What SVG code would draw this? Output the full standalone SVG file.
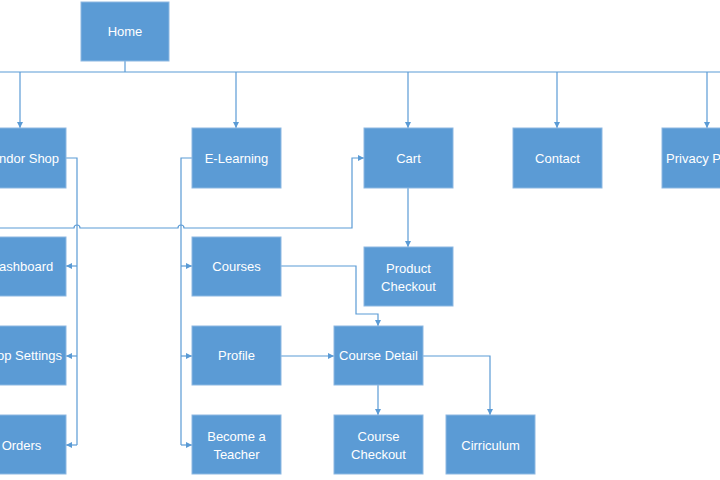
<svg xmlns="http://www.w3.org/2000/svg" width="720" height="480" viewBox="0 0 720 480">
<style>
.box{fill:#5B9BD5;stroke:#8DB8E2;stroke-width:1}
.lbl{font-family:"Liberation Sans",Arial,sans-serif;font-size:13px;fill:#FFFFFF;text-anchor:middle}
.ln{fill:none;stroke:#5B9BD5;stroke-width:1.2}
</style>
<defs>
<marker id="ah" viewBox="0 0 10 10" refX="10" refY="5" markerWidth="6" markerHeight="6" markerUnits="userSpaceOnUse" orient="auto">
<path d="M0,0 L10,5 L0,10 z" fill="#5B9BD5"/>
</marker>
</defs>
<rect width="720" height="480" fill="#FFFFFF"/>
<g id="connectors">
<path class="ln" d="M125,61 V72"/>
<path class="ln" d="M-5,72 H725"/>
<path class="ln" d="M20,72 V128" marker-end="url(#ah)"/>
<path class="ln" d="M236,72 V128" marker-end="url(#ah)"/>
<path class="ln" d="M408,72 V128" marker-end="url(#ah)"/>
<path class="ln" d="M557,72 V128" marker-end="url(#ah)"/>
<path class="ln" d="M707,72 V128" marker-end="url(#ah)"/>
<path class="ln" d="M66,158 H77 V445"/>
<path class="ln" d="M77,266 H66" marker-end="url(#ah)"/>
<path class="ln" d="M77,356 H66" marker-end="url(#ah)"/>
<path class="ln" d="M77,445 H66" marker-end="url(#ah)"/>
<path class="ln" d="M192,158 H181 V445"/>
<path class="ln" d="M181,266 H192" marker-end="url(#ah)"/>
<path class="ln" d="M181,356 H192" marker-end="url(#ah)"/>
<path class="ln" d="M181,445 H192" marker-end="url(#ah)"/>
<path class="ln" d="M-5,228 H74 A3,3 0 0 1 80,228 H178 A3,3 0 0 1 184,228 H352 V158 H364" marker-end="url(#ah)"/>
<path class="ln" d="M408,188 V247" marker-end="url(#ah)"/>
<path class="ln" d="M281,266 H356 V314 H378 V326" marker-end="url(#ah)"/>
<path class="ln" d="M281,356 H334" marker-end="url(#ah)"/>
<path class="ln" d="M378,385 V415" marker-end="url(#ah)"/>
<path class="ln" d="M423,356 H490 V415" marker-end="url(#ah)"/>
</g>
<g id="home"><rect class="box" x="81" y="2" width="88" height="59"/><text class="lbl" x="125" y="36">Home</text></g>
<g id="vendor-shop"><rect class="box" x="-23" y="128" width="89" height="60"/><text class="lbl" x="21.5" y="163">Vendor Shop</text></g>
<g id="e-learning"><rect class="box" x="192" y="128" width="89" height="60"/><text class="lbl" x="236.5" y="163">E-Learning</text></g>
<g id="cart"><rect class="box" x="364" y="128" width="89" height="60"/><text class="lbl" x="408.5" y="163">Cart</text></g>
<g id="contact"><rect class="box" x="513" y="128" width="89" height="60"/><text class="lbl" x="557.5" y="163">Contact</text></g>
<g id="privacy-policy"><rect class="box" x="662" y="128" width="89" height="60"/><text class="lbl" x="706.5" y="163">Privacy Policy</text></g>
<g id="dashboard"><rect class="box" x="-23" y="237" width="89" height="59"/><text class="lbl" x="21.5" y="271">Dashboard</text></g>
<g id="shop-settings"><rect class="box" x="-23" y="326" width="89" height="59"/><text class="lbl" x="21.5" y="360">Shop Settings</text></g>
<g id="orders"><rect class="box" x="-23" y="415" width="89" height="59"/><text class="lbl" x="21.5" y="450">Orders</text></g>
<g id="courses"><rect class="box" x="192" y="237" width="89" height="59"/><text class="lbl" x="236.5" y="271">Courses</text></g>
<g id="profile"><rect class="box" x="192" y="326" width="89" height="59"/><text class="lbl" x="236.5" y="360">Profile</text></g>
<g id="become-a-teacher"><rect class="box" x="192" y="415" width="89" height="59"/><text class="lbl" x="236.5" y="441">Become a</text><text class="lbl" x="236.5" y="459">Teacher</text></g>
<g id="product-checkout"><rect class="box" x="364" y="247" width="89" height="59"/><text class="lbl" x="408.5" y="273">Product</text><text class="lbl" x="408.5" y="291">Checkout</text></g>
<g id="course-detail"><rect class="box" x="334" y="326" width="89" height="59"/><text class="lbl" x="378.5" y="360">Course Detail</text></g>
<g id="course-checkout"><rect class="box" x="334" y="415" width="89" height="59"/><text class="lbl" x="378.5" y="441">Course</text><text class="lbl" x="378.5" y="459">Checkout</text></g>
<g id="cirriculum"><rect class="box" x="446" y="415" width="89" height="59"/><text class="lbl" x="490.5" y="450">Cirriculum</text></g>
</svg>
